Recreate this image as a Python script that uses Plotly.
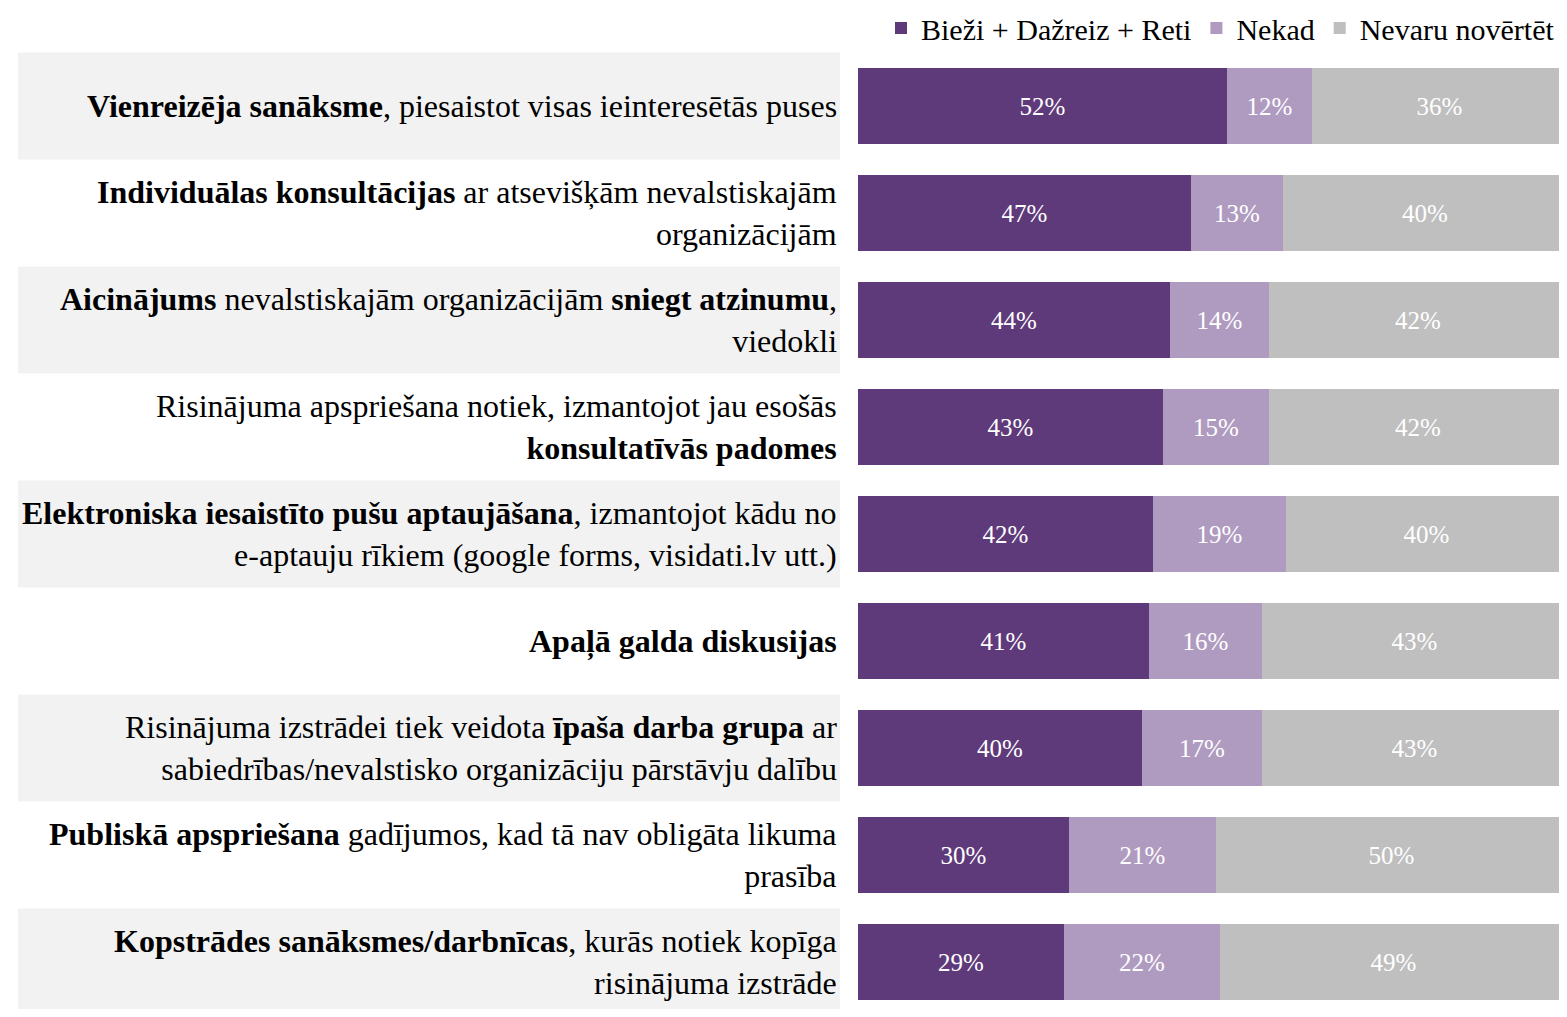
import plotly.graph_objects as go

categories = [
    "<b>Vienreizēja sanāksme</b>, piesaistot visas ieinteresētās puses",
    "<b>Individuālas konsultācijas</b> ar atsevišķām nevalstiskajām<br>organizācijām",
    "<b>Aicinājums</b> nevalstiskajām organizācijām <b>sniegt atzinumu</b>,<br>viedokli",
    "Risinājuma apspriešana notiek, izmantojot jau esošās<br><b>konsultatīvās padomes</b>",
    "<b>Elektroniska iesaistīto pušu aptaujāšana</b>, izmantojot kādu no<br>e-aptauju rīkiem (google forms, visidati.lv utt.)",
    "<b>Apaļā galda diskusijas</b>",
    "Risinājuma izstrādei tiek veidota <b>īpaša darba grupa</b> ar<br>sabiedrības/nevalstisko organizāciju pārstāvju dalību",
    "<b>Publiskā apspriešana</b> gadījumos, kad tā nav obligāta likuma<br>prasība",
    "<b>Kopstrādes sanāksmes/darbnīcas</b>, kurās notiek kopīga<br>risinājuma izstrāde",
]
series_names = ["Bieži + Dažreiz + Reti", "Nekad", "Nevaru novērtēt"]
often = [52, 47, 44, 43, 42, 41, 40, 30, 29]
never = [12, 13, 14, 15, 19, 16, 17, 21, 22]
cannot = [36, 40, 42, 42, 40, 43, 43, 50, 49]
colors = ["#5f3a7b", "#af9bbf", "#bfbfbf"]

FONT = "Liberation Serif, Times New Roman, serif"
# page body has an 8px margin; figure is sized/placed to compensate
OFF = 8
W, H = 1567 - OFF, 1017 - 2 * OFF
def px(xref_px):
    return (xref_px - OFF) / W

ROW0, STEP = 106, 107
y_ids = list(range(len(categories)))

fig = go.Figure()
for name, vals, col in zip(series_names, [often, never, cannot], colors):
    fig.add_trace(go.Bar(
        y=y_ids, x=vals, name=name, orientation="h",
        marker=dict(color=col, line=dict(width=0)),
        text=[f"{v}%" for v in vals], texttemplate="%{text}",
        textposition="inside", insidetextanchor="middle",
        textfont=dict(family=FONT, size=25, color="white"),
        constraintext="none", width=0.71, hoverinfo="skip",
    ))

for i, lab in enumerate(categories):
    if i % 2 == 0:
        fig.add_shape(type="rect", xref="paper", yref="y",
                      x0=px(18), x1=px(840), y0=i - 0.5, y1=i + 0.5,
                      fillcolor="#f2f2f2", line=dict(width=0), layer="below")
    fig.add_annotation(x=px(839), y=i, xref="paper", yref="y",
                       text=lab, showarrow=False, xanchor="right", align="right",
                       yanchor="middle",
                       font=dict(family=FONT, size=32, color="black"))

fig.update_layout(
    width=W, height=H, barmode="stack", barnorm="percent",
    margin=dict(l=0, r=0, t=0, b=0, autoexpand=False),
    paper_bgcolor="white", plot_bgcolor="white",
    font=dict(family=FONT, color="black"),
    xaxis=dict(domain=[px(858), 1], range=[0, 100], visible=False, fixedrange=True),
    yaxis=dict(range=[(OFF + H - ROW0) / STEP, (OFF - ROW0) / STEP],
               visible=False, fixedrange=True),
    legend=dict(orientation="h", x=px(1560), xanchor="right",
                yref="container", y=1 - (28 - OFF) / H, yanchor="middle",
                font=dict(family=FONT, size=30, color="black"),
                bgcolor="rgba(0,0,0,0)", traceorder="normal",
                itemwidth=30, tracegroupgap=0),
    bargap=0,
)

fig.write_html("out.html")
